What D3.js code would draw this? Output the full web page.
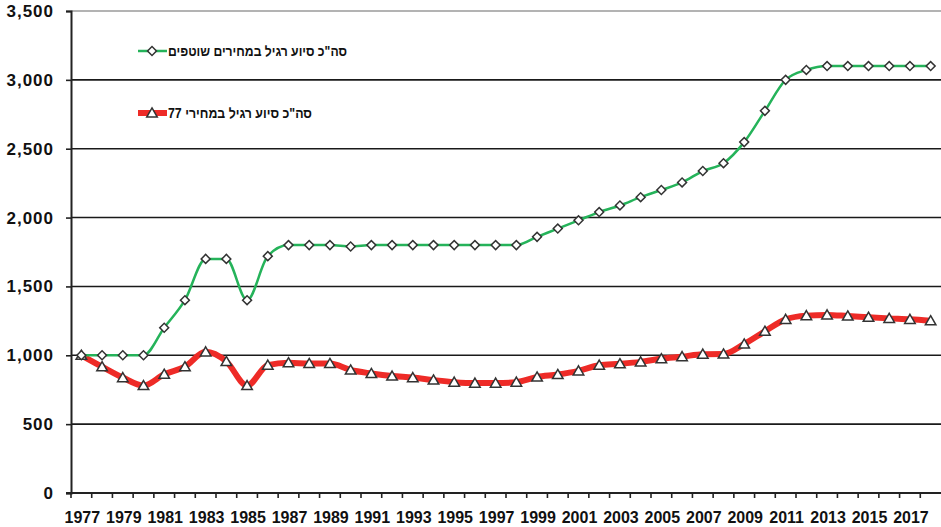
<!DOCTYPE html>
<html>
<head>
<meta charset="utf-8">
<script src="https://cdn.jsdelivr.net/npm/d3@7"></script>
<style>
  html, body { margin: 0; padding: 0; background: #fff; }
  svg { display: block; font-family: "Liberation Sans", Arial, sans-serif; }
</style>
</head>
<body>
<svg id="chart" width="941" height="527"></svg>
<script>
// Years on the category axis
const years = d3.range(1977, 2019);

// Total regular assistance, current prices
const currentPrices = [
  1000, 1000, 1000, 1000, 1200, 1400, 1700, 1700, 1400, 1720,
  1800, 1800, 1800, 1790, 1800, 1800, 1800, 1800, 1800, 1800,
  1800, 1800, 1860, 1920, 1980, 2040, 2088, 2148, 2200, 2255,
  2338, 2395, 2548, 2775, 3000, 3072, 3100, 3100, 3100, 3100,
  3100, 3100
];

// Total regular assistance, 1977 prices
const prices77 = [
  1000, 917, 838, 780, 862, 917, 1025, 955, 780, 928,
  946, 940, 940, 893, 868, 849, 838, 820, 805, 798,
  798, 805, 842, 860, 887, 928, 938, 952, 975, 990,
  1008, 1009, 1082, 1174, 1261, 1288, 1293, 1285, 1276, 1268,
  1261, 1251
];

// Every other year gets a label
const yearLabels = years.filter((y, i) => i % 2 === 0);
const yTicks = [0, 500, 1000, 1500, 2000, 2500, 3000, 3500];

const seriesNames = [
  'סה"כ סיוע רגיל במחירים שוטפים',
  'סה"כ סיוע רגיל במחירי 77'
];

const svg = d3.select("#chart");
const margin = { left: 71, right: 0, top: 11, bottom: 34 };
const W = 941, H = 527;

const x = d3.scaleBand()
  .domain(years)
  .range([margin.left, W - margin.right])
  .paddingInner(0).paddingOuter(0);

const y = d3.scaleLinear()
  .domain([0, 3500])
  .range([H - margin.bottom, margin.top]);

const cx = d => x(d) + x.bandwidth() / 2;

// Horizontal gridlines
svg.append("g")
  .selectAll("line")
  .data(yTicks.filter(t => t > 0))
  .join("line")
  .attr("x1", margin.left).attr("x2", W - margin.right)
  .attr("y1", d => y(d)).attr("y2", d => y(d))
  .attr("stroke", d => d === 3500 ? "#9a9a9a" : "#1a1a1a")
  .attr("stroke-width", 1.6);

// Y axis
const yAxis = svg.append("g")
  .attr("transform", `translate(${margin.left},0)`)
  .call(d3.axisLeft(y).tickValues(yTicks).tickSize(5).tickPadding(12)
    .tickFormat(d3.format(",")));
yAxis.select(".domain").attr("stroke", "#222").attr("stroke-width", 2);
yAxis.selectAll(".tick line").attr("stroke", "#222").attr("stroke-width", 1.6);
yAxis.selectAll(".tick text")
  .attr("fill", "#111")
  .style("font-size", "17px")
  .style("font-weight", "bold")
  .style("letter-spacing", "1px");

// X axis: ticks on category boundaries, labels on every other category
const xAxisG = svg.append("g").attr("transform", `translate(0,${y(0)})`);
xAxisG.append("line")
  .attr("x1", margin.left - 5).attr("x2", W - margin.right)
  .attr("y1", 0).attr("y2", 0)
  .attr("stroke", "#222").attr("stroke-width", 2);
xAxisG.selectAll("line.tk")
  .data(years)
  .join("line").attr("class", "tk")
  .attr("x1", d => x(d)).attr("x2", d => x(d))
  .attr("y1", 0).attr("y2", 5)
  .attr("stroke", "#222").attr("stroke-width", 1.6);
xAxisG.selectAll("text")
  .data(yearLabels)
  .join("text")
  .attr("x", d => cx(d) + 1)
  .attr("y", 30)
  .attr("text-anchor", "middle")
  .attr("fill", "#111")
  .style("font-size", "16px")
  .style("font-weight", "bold")
  .text(d => d);

const curve = d3.curveMonotoneX;

// Series lines
const lineCurrent = d3.line().x((d, i) => cx(years[i])).y(d => y(d)).curve(curve);
const line77 = d3.line().x((d, i) => cx(years[i])).y(d => y(d)).curve(curve);

svg.append("path")
  .datum(prices77)
  .attr("d", line77)
  .attr("fill", "none")
  .attr("stroke", "#ee2b27")
  .attr("stroke-width", 6)
  .attr("stroke-linejoin", "round");

svg.append("path")
  .datum(currentPrices)
  .attr("d", lineCurrent)
  .attr("fill", "none")
  .attr("stroke", "#25b35a")
  .attr("stroke-width", 2.5);

// Markers
const diamond = d3.symbol().type(d3.symbolSquare).size(40);
const triangle = d3.symbol().type(d3.symbolTriangle).size(48);

svg.append("g")
  .selectAll("path")
  .data(prices77)
  .join("path")
  .attr("d", triangle)
  .attr("transform", (d, i) => `translate(${cx(years[i])},${y(d) + 1})`)
  .attr("fill", "#fff")
  .attr("stroke", "#333")
  .attr("stroke-width", 1.5);

svg.append("g")
  .selectAll("path")
  .data(currentPrices)
  .join("path")
  .attr("d", diamond)
  .attr("transform", (d, i) => `translate(${cx(years[i])},${y(d)}) rotate(45)`)
  .attr("fill", "#fff")
  .attr("stroke", "#333")
  .attr("stroke-width", 1.5);

// Legend
const legend = svg.append("g");
const legendRows = [
  { name: seriesNames[0], y: 51, len: 179, color: "#25b35a", width: 2.5, mark: diamond, rot: 45 },
  { name: seriesNames[1], y: 113, len: 144, color: "#ee2b27", width: 6, mark: triangle, rot: 0 }
];
legendRows.forEach(r => {
  legend.append("line")
    .attr("x1", 138).attr("x2", 167)
    .attr("y1", r.y).attr("y2", r.y)
    .attr("stroke", r.color).attr("stroke-width", r.width);
  legend.append("path")
    .attr("d", r.mark)
    .attr("transform", `translate(152,${r.y + (r.rot ? 0 : 1)}) rotate(${r.rot})`)
    .attr("fill", "#fff").attr("stroke", "#333").attr("stroke-width", 1.5);
  legend.append("text")
    .attr("x", 168).attr("y", r.y + 5)
    .attr("fill", "#111")
    .attr("textLength", r.len)
    .attr("lengthAdjust", "spacingAndGlyphs")
    .style("font-size", "14px")
    .style("font-weight", "bold")
    .text(r.name);
});
</script>
</body>
</html>
